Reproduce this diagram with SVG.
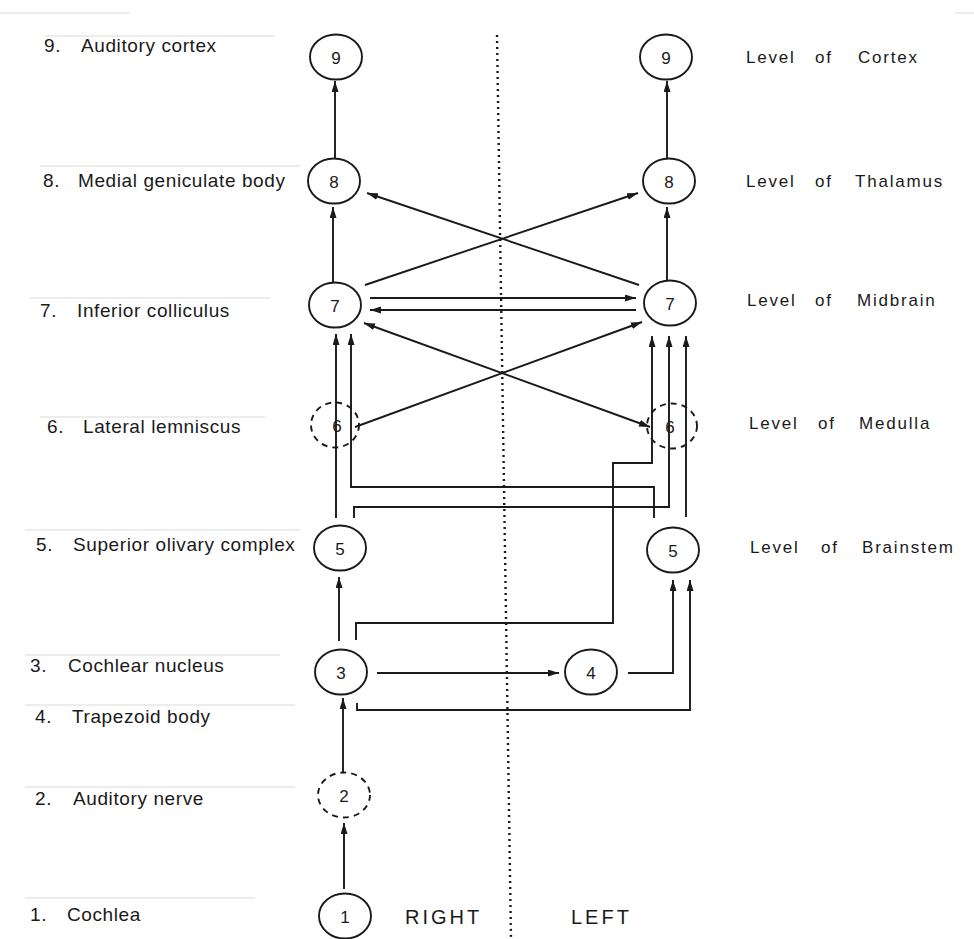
<svg xmlns="http://www.w3.org/2000/svg" width="974" height="939" viewBox="0 0 974 939">
  <style>
    .node { fill: none; stroke: #1a1a1a; stroke-width: 1.9; }
    .dashed { stroke-dasharray: 6 5; }
    .num { font-family: "Liberation Sans", Arial, sans-serif; font-size: 17px; fill: #1a1a1a; text-anchor: middle; dominant-baseline: central; }
    .edge { fill: none; stroke: #1a1a1a; stroke-width: 1.9; marker-end: url(#arrow); }
    .lbl { font-family: "Liberation Sans", Arial, sans-serif; font-size: 19px; letter-spacing: 0.6px; fill: #1a1a1a; }
    .lvl { font-family: "Liberation Sans", Arial, sans-serif; font-size: 17px; letter-spacing: 1.8px; fill: #1a1a1a; }
    .side { font-family: "Liberation Sans", Arial, sans-serif; font-size: 20px; letter-spacing: 3px; fill: #1a1a1a; }
    .rule { stroke: #dadada; stroke-width: 1; }
    .midline { stroke: #1a1a1a; stroke-width: 2.4; stroke-dasharray: 2 4; fill: none; }
  </style>
  <defs>
    <marker id="arrow" markerUnits="userSpaceOnUse" markerWidth="12" markerHeight="8" refX="11" refY="3.5" orient="auto-start-reverse">
      <path d="M0,0 L11,3.5 L0,7 z" fill="#1a1a1a"/>
    </marker>
  </defs>
  <rect width="974" height="939" fill="#ffffff"/>

  <!-- faint ruling lines of the page -->
  <g id="rules">
    <line class="rule" x1="0" y1="13" x2="130" y2="13" stroke="#999"/>
    <line class="rule" x1="955" y1="13" x2="974" y2="13" stroke="#999"/>
    <line class="rule" x1="45" y1="36" x2="275" y2="36"/>
    <line class="rule" x1="40" y1="166" x2="300" y2="166"/>
    <line class="rule" x1="30" y1="298" x2="270" y2="298"/>
    <line class="rule" x1="40" y1="417" x2="265" y2="417"/>
    <line class="rule" x1="25" y1="530" x2="300" y2="530"/>
    <line class="rule" x1="25" y1="655" x2="280" y2="655"/>
    <line class="rule" x1="25" y1="705" x2="295" y2="705"/>
    <line class="rule" x1="25" y1="787" x2="295" y2="787"/>
    <line class="rule" x1="25" y1="898" x2="255" y2="898"/>
  </g>

  <!-- dotted midline between the two sides -->
  <line id="midline" class="midline" x1="497" y1="35" x2="511" y2="939"/>

  <!-- connectors -->
  <g id="connectors">
    <line class="edge" x1="335" y1="159" x2="335" y2="81"/>
    <line class="edge" x1="667" y1="159" x2="667" y2="81"/>
    <line class="edge" x1="333" y1="282" x2="333" y2="207"/>
    <line class="edge" x1="667" y1="280" x2="667" y2="207"/>
    <line class="edge" x1="365" y1="285" x2="638" y2="193"/>
    <line class="edge" x1="639" y1="285" x2="367" y2="193"/>
    <line class="edge" x1="370" y1="298" x2="636" y2="298"/>
    <line class="edge" x1="636" y1="310" x2="370" y2="310"/>
    <line class="edge" x1="355" y1="427" x2="642" y2="322"/>
    <line class="edge" x1="650" y1="427" x2="364" y2="323" style="marker-start:url(#arrow)"/>
    <line class="edge" x1="336" y1="518" x2="336" y2="334"/>
    <polyline class="edge" points="654,518 654,487 351,487 351,334"/>
    <polyline class="edge" points="354,518 354,507 669,507 669,336"/>
    <line class="edge" x1="686" y1="517" x2="686" y2="336"/>
    <polyline class="edge" points="356,640 356,623 613,623 613,463 652,463 652,336"/>
    <line class="edge" x1="339" y1="641" x2="339" y2="577"/>
    <line class="edge" x1="377" y1="673" x2="559" y2="673"/>
    <polyline class="edge" points="628,673 673,673 673,580"/>
    <polyline class="edge" points="357,703 357,710 690,710 690,580"/>
    <line class="edge" x1="343" y1="773" x2="343" y2="698"/>
    <line class="edge" x1="344" y1="889" x2="344" y2="823"/>
  </g>

  <!-- right-side nuclei -->
  <g id="n9r"><ellipse class="node" cx="336" cy="57" rx="26" ry="22.5"/><text class="num" x="336" y="58">9</text></g>
  <g id="n8r"><ellipse class="node" cx="334" cy="181" rx="26" ry="22.5"/><text class="num" x="334" y="182">8</text></g>
  <g id="n7r"><ellipse class="node" cx="335" cy="305" rx="26" ry="22.5"/><text class="num" x="335" y="306">7</text></g>
  <g id="n6r"><ellipse class="node dashed" cx="335" cy="425" rx="24" ry="22.5"/><text class="num" x="337" y="426" fill="#444">6</text></g>
  <g id="n5r"><ellipse class="node" cx="340" cy="548" rx="26" ry="22.5"/><text class="num" x="340" y="549">5</text></g>
  <g id="n3r"><ellipse class="node" cx="341" cy="672" rx="26" ry="22.5"/><text class="num" x="341" y="673">3</text></g>
  <g id="n2r"><ellipse class="node dashed" cx="344" cy="795" rx="26" ry="22.5"/><text class="num" x="344" y="796">2</text></g>
  <g id="n1r"><ellipse class="node" cx="345" cy="916" rx="26" ry="22.5"/><text class="num" x="345" y="917">1</text></g>

  <!-- left-side nuclei -->
  <g id="n9l"><ellipse class="node" cx="666" cy="57" rx="26" ry="22.5"/><text class="num" x="666" y="58">9</text></g>
  <g id="n8l"><ellipse class="node" cx="669" cy="181" rx="26" ry="22.5"/><text class="num" x="669" y="182">8</text></g>
  <g id="n7l"><ellipse class="node" cx="670" cy="303" rx="26" ry="22.5"/><text class="num" x="670" y="304">7</text></g>
  <g id="n6l"><ellipse class="node dashed" cx="672" cy="426" rx="25" ry="22.5"/><text class="num" x="670" y="427" fill="#444">6</text></g>
  <g id="n5l"><ellipse class="node" cx="673" cy="550" rx="26" ry="22.5"/><text class="num" x="673" y="551">5</text></g>
  <g id="n4"><ellipse class="node" cx="591" cy="672" rx="26" ry="22.5"/><text class="num" x="591" y="673">4</text></g>

  <!-- structure names -->
  <g id="labels">
    <text class="lbl" y="52"><tspan x="44">9.</tspan><tspan x="81">Auditory cortex</tspan></text>
    <text class="lbl" y="187"><tspan x="43">8.</tspan><tspan x="78">Medial geniculate body</tspan></text>
    <text class="lbl" y="317"><tspan x="40">7.</tspan><tspan x="77">Inferior colliculus</tspan></text>
    <text class="lbl" y="433"><tspan x="47">6.</tspan><tspan x="83">Lateral lemniscus</tspan></text>
    <text class="lbl" y="551"><tspan x="36">5.</tspan><tspan x="73">Superior olivary complex</tspan></text>
    <text class="lbl" y="672"><tspan x="30">3.</tspan><tspan x="68">Cochlear nucleus</tspan></text>
    <text class="lbl" y="723"><tspan x="35">4.</tspan><tspan x="72">Trapezoid body</tspan></text>
    <text class="lbl" y="805"><tspan x="35">2.</tspan><tspan x="73">Auditory nerve</tspan></text>
    <text class="lbl" y="921"><tspan x="30">1.</tspan><tspan x="67">Cochlea</tspan></text>
  </g>

  <!-- levels -->
  <g id="levels">
    <text class="lvl" y="63"><tspan x="746">Level</tspan><tspan x="815">of</tspan><tspan x="858">Cortex</tspan></text>
    <text class="lvl" y="187"><tspan x="746">Level</tspan><tspan x="815">of</tspan><tspan x="855">Thalamus</tspan></text>
    <text class="lvl" y="306"><tspan x="747">Level</tspan><tspan x="815">of</tspan><tspan x="857">Midbrain</tspan></text>
    <text class="lvl" y="429"><tspan x="749">Level</tspan><tspan x="818">of</tspan><tspan x="859">Medulla</tspan></text>
    <text class="lvl" y="553"><tspan x="750">Level</tspan><tspan x="821">of</tspan><tspan x="862">Brainstem</tspan></text>
  </g>

  <g id="sides">
    <text class="side" x="405" y="924">RIGHT</text>
    <text class="side" x="571" y="924">LEFT</text>
  </g>
</svg>
